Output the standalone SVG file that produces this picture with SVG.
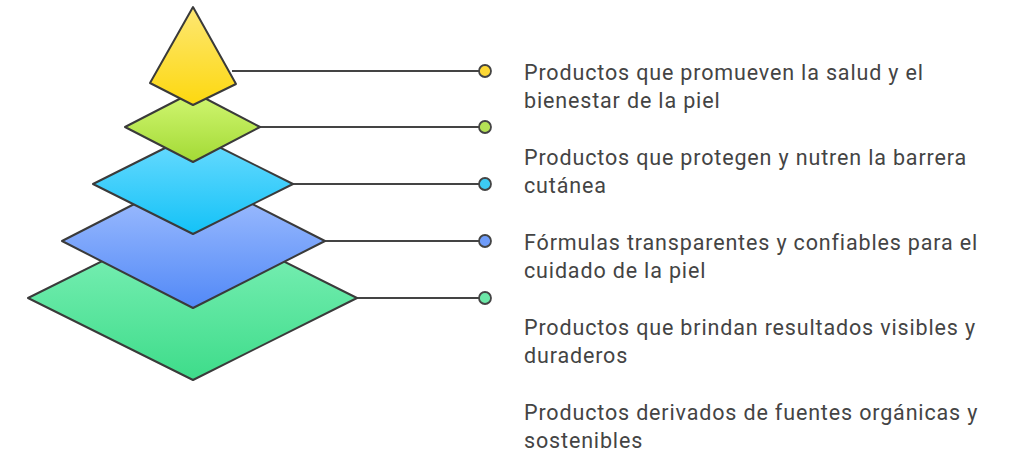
<svg xmlns="http://www.w3.org/2000/svg" width="1024" height="454" viewBox="0 0 1024 454">
<style>
.n{stroke:#3a3a3a;stroke-width:2;stroke-linejoin:round}
.c line{stroke:#444;stroke-width:2}
.c circle{stroke:#444;stroke-width:1.8}
text{font-family:Roboto,"Liberation Sans",sans-serif;font-size:21.5px;letter-spacing:0.85px;fill:#444}
</style>
<defs>
<linearGradient id="g5" x1="0" y1="0" x2="0" y2="1"><stop offset="0" stop-color="#86f3bd"/><stop offset="1" stop-color="#3edc8a"/></linearGradient>
<linearGradient id="g4" x1="0" y1="0" x2="0" y2="1"><stop offset="0" stop-color="#a9c4ff"/><stop offset="1" stop-color="#5289f7"/></linearGradient>
<linearGradient id="g3" x1="0" y1="0" x2="0" y2="1"><stop offset="0" stop-color="#6edcff"/><stop offset="1" stop-color="#14c2f7"/></linearGradient>
<linearGradient id="g2" x1="0" y1="0" x2="0" y2="1"><stop offset="0" stop-color="#d2f773"/><stop offset="1" stop-color="#a3da35"/></linearGradient>
<linearGradient id="g1" x1="0" y1="0" x2="0" y2="1"><stop offset="0" stop-color="#fde774"/><stop offset="1" stop-color="#fdd80f"/></linearGradient>
</defs>
<g class="c">
<line x1="232" y1="71" x2="479" y2="71"/>
<line x1="260" y1="127" x2="479" y2="127"/>
<line x1="293" y1="184" x2="479" y2="184"/>
<line x1="325" y1="241" x2="479" y2="241"/>
<line x1="357" y1="298" x2="479" y2="298"/>
<circle cx="485" cy="71" r="6" fill="#fdd835"/>
<circle cx="485" cy="127" r="6" fill="#b5e255"/>
<circle cx="485" cy="184" r="6" fill="#3ccbf4"/>
<circle cx="485" cy="241" r="6" fill="#6f9cf9"/>
<circle cx="485" cy="298" r="6" fill="#6ce8a8"/>
</g>
<g id="layer5"><polygon class="n" fill="url(#g5)" points="193,216 357,298 193,380 28,298"/></g>
<g id="layer4"><polygon class="n" fill="url(#g4)" points="193,174 325,241 193,308 62,241"/></g>
<g id="layer3"><polygon class="n" fill="url(#g3)" points="193,134 293,184 193,234 93,184"/></g>
<g id="layer2"><polygon class="n" fill="url(#g2)" points="193,92 260,127 193,162 125,127"/></g>
<g id="layer1"><polygon class="n" fill="url(#g1)" points="193,7 236,84 193,105 150,83"/></g>
<g id="labels">
<text x="524" y="80">Productos que promueven la salud y el</text>
<text x="524" y="108">bienestar de la piel</text>
<text x="524" y="165">Productos que protegen y nutren la barrera</text>
<text x="524" y="193">cutánea</text>
<text x="524" y="250">Fórmulas transparentes y confiables para el</text>
<text x="524" y="278">cuidado de la piel</text>
<text x="524" y="335">Productos que brindan resultados visibles y</text>
<text x="524" y="363">duraderos</text>
<text x="524" y="420">Productos derivados de fuentes orgánicas y</text>
<text x="524" y="448">sostenibles</text>
</g>
</svg>
